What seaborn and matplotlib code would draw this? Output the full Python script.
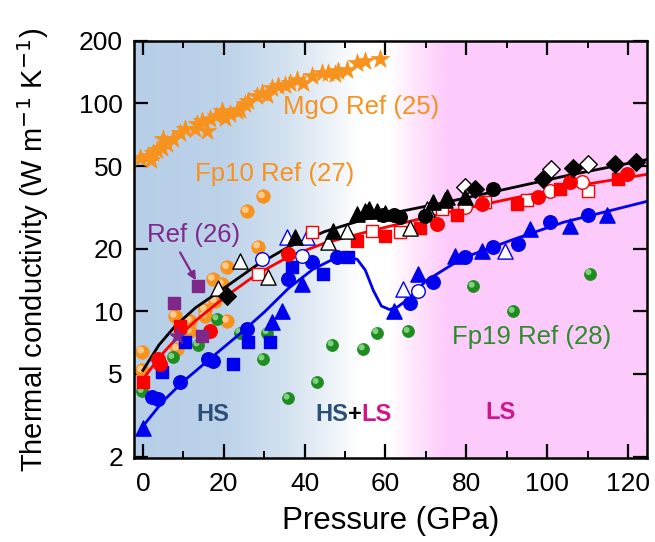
import numpy as np
import pandas as pd
import matplotlib
matplotlib.use("Agg")
import matplotlib.pyplot as plt
import matplotlib.transforms as mtransforms
from matplotlib.colors import LinearSegmentedColormap
from matplotlib.ticker import FixedLocator, NullLocator, MultipleLocator
import seaborn as sns

# MgO Ref (25) - estrellas naranjas
mgo_p = [-0.7, 1.3, 2.0, 2.6, 3.5, 4.6, 5.9, 5.0, 7.5, 9.2, 10.4, 12.9, 13.3, 14.5, 15.8, 16.6,
         18.2, 19.5, 20.3, 21.5, 23.2, 24.0, 25.2, 26.1, 28.1, 29.4, 30.6, 31.9, 33.5, 35.1,
         36.4, 38.0, 39.7, 41.8, 44.2, 45.9, 47.5, 48.3, 50.4, 52.9, 55.0, 58.7]
mgo_k = [54.8, 55.8, 53.5, 57.9, 60.0, 61.2, 63.5, 67.1, 67.1, 72.3, 75.0, 75.0, 79.3, 82.3, 73.6, 83.8,
         86.9, 91.8, 85.3, 88.5, 91.8, 93.5, 98.9, 102.6, 108.4, 112.5, 110.4, 118.9, 121.0, 123.3,
         125.6, 130.3, 125.6, 135.2, 140.5, 140.5, 137.8, 143.0, 145.6, 157.0, 159.7, 164.0]

# Fp10 Ref (27) - bolas naranjas
fp10_p = [29.7, 25.7, 20.8, 17.3, 19.5, 17.8, 15.3, 15.3, 11.6, 7.9, 11.6, 20.8, 8.4, -0.2, -0.2, 28.5]
fp10_k = [35.7, 30.3, 16.3, 14.3, 13.5, 11.2, 10.2, 9.5, 9.0, 9.5, 8.0, 9.0, 6.6, 6.4, 5.2, 20.5]

# Fp19 Ref (28) - bolas verdes
fp19_p = [-0.2, 7.4, 13.6, 18.3, 24.0, 30.7, 29.7, 35.9, 43.1, 46.8, 54.5, 57.9, 65.6, 81.7, 91.6, 110.6]
fp19_k = [4.12, 6.0, 6.9, 9.2, 7.9, 7.9, 5.9, 3.82, 4.55, 6.9, 6.6, 7.9, 8.0, 13.2, 10.0, 15.2]

# Ref (26) - morado
ref26_sq_p = [13.6, 7.7, 14.6]
ref26_sq_k = [13.2, 11.0, 7.6]
ref26_star_p = [8.4]
ref26_star_k = [7.6]

# serie negra
neg_tri_p = [37.6, 47.0, 53.0, 55.0, 56.0, 58.0, 60.0, 71.8, 74.8, 75.2, 79.7]
neg_tri_k = [22.7, 24.3, 29.5, 30.5, 30.9, 30.5, 29.8, 33.4, 34.5, 35.3, 35.3]
neg_dia_p = [20.8, 82.2, 99.0, 106.4, 116.8, 122.0]
neg_dia_k = [11.8, 38.6, 43.2, 49.0, 51.0, 52.5]
neg_cir_p = [59.4, 62.0, 63.6, 69.8, 86.6]
neg_cir_k = [29.2, 29.2, 28.3, 28.6, 38.6]
ab_dia_p = [79.7, 101.0, 110.0]
ab_dia_k = [39.8, 48.2, 51.0]
ab_tri_p = [18.6, 24.0, 31.0, 45.8, 50.5, 66.0, 70.3]
ab_tri_k = [13.0, 17.4, 14.7, 21.5, 24.3, 25.3, 31.0]
neg_curva_p = [0, 4, 8, 13, 20, 28, 36, 45, 55, 65, 75, 90, 105, 124.7]
neg_curva_k = [5.2, 6.9, 8.5, 10.4, 12.9, 16.6, 20.4, 24.2, 27.8, 30.6, 33.5, 38.8, 45.0, 53.7]

# serie roja
rojo_cir_p = [3.7, 4.2, 16.6, 36.0, 72.8, 83.9, 97.8, 105.7, 119.8]
rojo_cir_k = [5.9, 5.6, 8.0, 18.8, 26.2, 32.7, 35.3, 42.0, 45.6]
rojo_sq_p = [0.0, 9.2, 53.0, 60.0, 68.6, 77.7, 92.6, 103.2, 117.6]
rojo_sq_k = [4.55, 8.5, 21.7, 23.0, 25.3, 29.2, 32.7, 38.6, 43.2]
rojo_absq_p = [28.5, 41.8, 56.7, 63.6, 74.0, 84.7, 95.0, 110.0]
rojo_absq_k = [15.1, 24.0, 24.3, 24.1, 31.0, 33.7, 34.5, 37.8]
rojo_abcir_p = [79.7, 100.7, 108.7]
rojo_abcir_k = [31.7, 37.8, 41.7]
rojo_curva_p = [0, 4, 8, 13, 20, 28, 36, 45, 55, 65, 75, 90, 105, 124.7]
rojo_curva_k = [4.7, 6.0, 7.3, 9.0, 11.6, 15.0, 18.3, 21.3, 24.0, 26.8, 29.8, 34.5, 39.5, 45.6]

# serie azul
azul_cir_p = [2.2, 3.7, 9.2, 16.1, 17.3, 25.7, 35.9, 41.8, 48.0, 66.0, 71.8, 79.7, 86.6, 92.8, 100.7, 110.0]
azul_cir_k = [3.86, 3.8, 4.55, 5.9, 5.8, 8.2, 14.3, 17.2, 18.2, 11.0, 13.9, 18.2, 20.3, 21.0, 26.8, 29.2]
azul_sq_p = [4.7, 10.4, 22.3, 26.0, 31.4, 36.9, 44.6, 50.7]
azul_sq_k = [5.1, 7.1, 5.6, 7.1, 7.1, 16.3, 15.1, 18.2]
azul_tri_p = [0.0, 31.9, 34.4, 39.4, 62.0, 68.1, 77.2, 83.9, 95.8, 105.7, 114.9]
azul_tri_k = [2.75, 8.9, 10.0, 13.5, 10.0, 15.1, 18.4, 19.4, 24.8, 25.6, 29.2]
azul_abcir_p = [29.5, 39.4, 68.0]
azul_abcir_k = [17.8, 18.4, 12.5]
azul_abtri_p = [35.6, 40.6, 64.4, 89.6]
azul_abtri_k = [22.7, 22.7, 12.8, 19.4]
azul_curva_p = [0, 5, 10, 17, 24, 30, 36, 42, 47, 50.5, 53, 55, 57, 59, 61, 63, 66, 70, 79, 92, 104, 124.7]
azul_curva_k = [2.8, 3.7, 4.6, 6.0, 7.8, 9.9, 12.9, 15.9, 17.8, 18.3, 17.8, 15.8, 12.6, 10.6, 10.2, 10.5,
                11.6, 14.0, 18.0, 22.3, 26.8, 33.8]

NARANJA = "#f7921e"
VERDE = "#1e8c1e"
MORADO = "#80288a"
AZUL = "#0000f0"
ROJO = "#ff0000"

plt.rcParams["font.family"] = ["Liberation Sans", "DejaVu Sans"]

fig = plt.figure(figsize=(6.55, 5.42), dpi=100)
ax = fig.add_axes([0.2046, 0.155, 0.7832, 0.7696])

# fondo degradado azul -> blanco -> rosa
cmap = LinearSegmentedColormap.from_list("fondo", [
    (0.0, "#b6cee7"), (0.17, "#bcd2e9"), (0.30, "#d4e2f0"), (0.40, "#f2f6fa"),
    (0.44, "#ffffff"), (0.50, "#ffffff"), (0.55, "#fde4fb"), (0.61, "#fdcbfb"), (1.0, "#fdcbfb")])
grad = np.linspace(0, 1, 512).reshape(1, -1)
ax.imshow(grad, extent=[0, 1, 0, 1], transform=ax.transAxes, cmap=cmap, aspect="auto", zorder=0)


def puntos(p, k, marker, color, edge, s=80, lw=1.0, z=3):
    df = pd.DataFrame({"P": p, "k": k})
    sns.scatterplot(data=df, x="P", y="k", ax=ax, marker=marker, color=color, edgecolor=edge,
                    s=s, linewidth=lw, legend=False, zorder=z)


def bolas(p, k, color, brillo, s=80):
    df = pd.DataFrame({"P": p, "k": k})
    sns.scatterplot(data=df, x="P", y="k", ax=ax, marker="o", color=color, edgecolor=color,
                    s=s, linewidth=0.5, legend=False, zorder=2)
    off = mtransforms.ScaledTranslation(-1.5 / 100, 1.5 / 100, fig.dpi_scale_trans)
    sns.scatterplot(data=df, x="P", y="k", ax=ax, marker="o", color=brillo, edgecolor="none",
                    s=s * 0.25, linewidth=0, legend=False, zorder=2.1,
                    transform=ax.transData + off)


def curva(p, k, color):
    df = pd.DataFrame({"P": p, "k": k})
    sns.lineplot(data=df, x="P", y="k", ax=ax, color=color, linewidth=2.0, sort=False,
                 estimator=None, legend=False, zorder=2.5)


# MgO
puntos(mgo_p, mgo_k, "*", NARANJA, NARANJA, s=190, lw=0.5, z=2)
# Fp10 y Fp19
bolas(fp10_p, fp10_k, NARANJA, "#ffc98a", s=95)
bolas(fp19_p, fp19_k, VERDE, "#7fd07f", s=75)

# curvas
curva(neg_curva_p, neg_curva_k, "black")
curva(rojo_curva_p, rojo_curva_k, ROJO)
curva(azul_curva_p, azul_curva_k, AZUL)

# serie azul
puntos(azul_sq_p, azul_sq_k, "s", AZUL, AZUL, s=75)
puntos(azul_cir_p, azul_cir_k, "o", AZUL, AZUL, s=95)
puntos(azul_tri_p, azul_tri_k, "^", AZUL, AZUL, s=120)
puntos(azul_abcir_p, azul_abcir_k, "o", "white", AZUL, s=95, lw=1.0)
puntos(azul_abtri_p, azul_abtri_k, "^", "white", AZUL, s=120, lw=1.0)

# serie roja
puntos(rojo_absq_p, rojo_absq_k, "s", "white", ROJO, s=75, lw=1.0)
puntos(rojo_abcir_p, rojo_abcir_k, "o", "white", ROJO, s=95, lw=1.0)
puntos(rojo_sq_p, rojo_sq_k, "s", ROJO, ROJO, s=75)
puntos(rojo_cir_p, rojo_cir_k, "o", ROJO, ROJO, s=95)

# serie negra
puntos(ab_tri_p, ab_tri_k, "^", "white", "black", s=120, lw=1.0)
puntos(ab_dia_p, ab_dia_k, "D", "white", "black", s=80, lw=1.0)
puntos(neg_tri_p, neg_tri_k, "^", "black", "black", s=120)
puntos(neg_dia_p, neg_dia_k, "D", "black", "black", s=80)
puntos(neg_cir_p, neg_cir_k, "o", "black", "black", s=95)

# Ref (26)
puntos(ref26_sq_p, ref26_sq_k, "s", MORADO, MORADO, s=75)
puntos(ref26_star_p, ref26_star_k, "*", MORADO, MORADO, s=170, lw=0.5)

ax.set_yscale("log")
ax.set_xlim(-2.2, 124.7)
ax.set_ylim(1.97, 200)

ax.yaxis.set_major_locator(FixedLocator([2, 5, 10, 20, 50, 100, 200]))
ax.yaxis.set_minor_locator(NullLocator())
ax.set_yticklabels(["2", "5", "10", "20", "50", "100", "200"])
ax.xaxis.set_major_locator(MultipleLocator(20))
ax.xaxis.set_minor_locator(MultipleLocator(10))

ax.tick_params(axis="both", which="major", direction="in", top=True, right=True,
               length=10, width=1.6, labelsize=19, colors="black")
ax.tick_params(axis="x", which="major", pad=10)
ax.tick_params(axis="y", which="major", pad=8)
ax.tick_params(axis="x", which="minor", direction="in", top=True, length=5, width=1.4)
for sp in ax.spines.values():
    sp.set_linewidth(1.8)
    sp.set_color("black")

ax.set_xlabel("Pressure (GPa)", fontsize=22.5, labelpad=7)
ax.set_ylabel("Thermal conductivity (W m$^{-1}$ K$^{-1}$)", fontsize=21, labelpad=20)

# textos
FS = 18.5
ax.text(34.7, 95.7, "MgO Ref (25)", color=NARANJA, fontsize=FS, ha="left", va="center")
ax.text(12.9, 45.6, "Fp10 Ref (27)", color=NARANJA, fontsize=FS, ha="left", va="center")
ax.text(76.5, 7.5, "Fp19 Ref (28)", color="#2a8c2a", fontsize=FS, ha="left", va="center")
ax.text(1.0, 23.4, "Ref (26)", color=MORADO, fontsize=FS, ha="left", va="center")
ax.annotate("", xy=(13.1, 14.1), xytext=(9.2, 19.2),
            arrowprops=dict(arrowstyle="-|>", color=MORADO, lw=1.6, shrinkA=0, shrinkB=0,
                            mutation_scale=12))

HS_COL = "#2b5077"
LS_COL = "#d0148c"
ax.text(17.3, 3.2, "HS", color=HS_COL, fontsize=17, fontweight="bold", ha="center", va="center")
t = ax.text(42.6, 3.2, "HS", color=HS_COL, fontsize=17, fontweight="bold", ha="left", va="center")
t2 = ax.annotate("+", xycoords=t, xy=(1, 0.5), va="center", ha="left", color="black",
                 fontsize=17, fontweight="bold")
ax.annotate("LS", xycoords=t2, xy=(1, 0.5), va="center", ha="left", color=LS_COL,
            fontsize=17, fontweight="bold")
ax.text(84.7, 3.25, "LS", color=LS_COL, fontsize=17, fontweight="bold", ha="left", va="center")

fig.savefig("out.png", dpi=100)
